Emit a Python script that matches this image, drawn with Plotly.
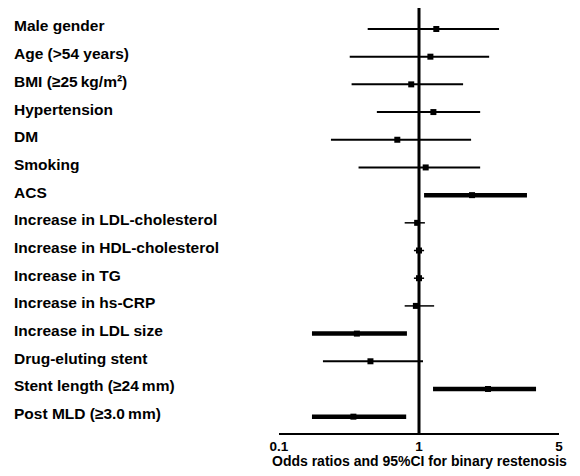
import math
import plotly.graph_objects as go

labels = ["Male gender", "Age (>54 years)", "BMI (\u226525\u2009kg/m\u00b2)", "Hypertension", "DM",
          "Smoking", "ACS", "Increase in LDL-cholesterol", "Increase in HDL-cholesterol",
          "Increase in TG", "Increase in hs-CRP", "Increase in LDL size", "Drug-eluting stent",
          "Stent length (\u226524\u2009mm)", "Post MLD (\u22653.0\u2009mm)"]
odds = [1.22, 1.14, 0.88, 1.18, 0.70, 1.08, 1.84, 0.97, 1.00, 1.00, 0.95, 0.36, 0.45, 2.21, 0.34]
ci_low = [0.43, 0.32, 0.33, 0.50, 0.235, 0.37, 1.06, 0.79, 0.92, 0.92, 0.79, 0.172, 0.206, 1.175, 0.172]
ci_high = [2.51, 2.24, 1.66, 2.02, 1.82, 2.02, 3.46, 1.07, 1.06, 1.06, 1.19, 0.82, 1.047, 3.84, 0.81]
# line weight group: 0 = fine, 1 = normal, 2 = bold (significant)
weight = [1, 1, 1, 1, 1, 1, 2, 0, 0, 0, 0, 2, 1, 2, 2]
tick_vals = [0.1, 1, 5]
tick_text = ["0.1", "1", "5"]


def tr(v):
    # axis is split: 0.1..1 on the left half, 1..5 on the right half (both logarithmic)
    return math.log10(v) if v <= 1 else math.log(v) / math.log(5)


n = len(labels)
fig = go.Figure()
widths = {0: 1.5, 1: 2, 2: 4.5}
for g, w in widths.items():
    xs, ys = [], []
    for i in range(n):
        if weight[i] == g:
            xs += [tr(ci_low[i]), tr(ci_high[i]), None]
            ys += [i, i, None]
    fig.add_trace(go.Scatter(x=xs, y=ys, mode="lines", line=dict(color="black", width=w),
                             hoverinfo="skip", showlegend=False))

fig.add_trace(go.Scatter(x=[tr(v) for v in odds], y=list(range(n)), mode="markers",
                         marker=dict(symbol="square", size=6, color="black"),
                         showlegend=False))

fig.add_shape(type="line", xref="x", yref="paper", x0=tr(1), x1=tr(1), y0=0, y1=1,
              line=dict(color="black", width=3))

for i, lab in enumerate(labels):
    fig.add_annotation(x=0, xref="paper", xshift=-267, y=i, yref="y", yshift=3,
                       text="<b>" + lab + "</b>", showarrow=False, xanchor="left",
                       font=dict(family="Liberation Sans", size=15.5, color="black"))

fig.add_annotation(x=0.5, xref="paper", y=0, yref="paper", yshift=-28,
                   text="<b>Odds ratios and 95%CI for binary restenosis</b>",
                   showarrow=False, xanchor="center", yanchor="middle",
                   font=dict(family="Liberation Sans", size=14, color="black"))

fig.update_layout(
    width=572, height=468,
    margin=dict(l=271, r=21, t=0, b=43),
    plot_bgcolor="white", paper_bgcolor="white",
    font=dict(family="Liberation Sans", size=13, color="black"),
    xaxis=dict(range=[-1, 1], tickvals=[tr(v) for v in tick_vals],
               ticktext=["<b>" + t + "</b>" for t in tick_text],
               showgrid=False, zeroline=False, showline=True, linecolor="black", linewidth=2,
               ticks="", tickfont=dict(size=13.5)),
    yaxis=dict(range=[14.59, -0.758], showgrid=False, zeroline=False, showline=False,
               showticklabels=False, ticks=""),
)

fig.write_html("out.html")
